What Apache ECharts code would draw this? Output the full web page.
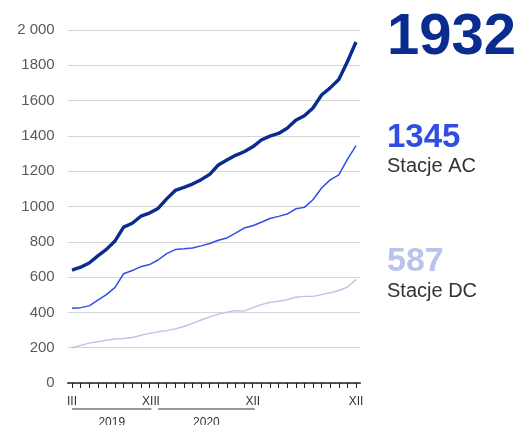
<!DOCTYPE html>
<html>
<head>
<meta charset="utf-8">
<script src="https://cdn.jsdelivr.net/npm/echarts@6/dist/echarts.min.js"></script>
<style>
  html, body { margin: 0; padding: 0; background: #ffffff; }
  #chart { width: 520px; height: 425px; }
</style>
</head>
<body>
<div id="chart"></div>
<script>
// Months from March 2019 to December 2021
const months = ['III','IV','V','VI','VII','VIII','IX','X','XI','XII',
  'I','II','III','IV','V','VI','VII','VIII','IX','X','XI','XII',
  'I','II','III','IV','V','VI','VII','VIII','IX','X','XI','XII'];
// Month indices that carry a visible label
const labelledMonths = [0, 9, 10, 21, 33];
// Year brackets under the axis
const years = ['2019', '2020'];
const yearFirst = [0, 10];
const yearLast = [9, 21];

// Public charging stations: total, AC and DC
const totalStations = [640,656,680,720,757,805,883,905,945,963,989,1043,1091,1108,1127,1152,1182,1235,1263,1290,1310,1338,1377,1399,1414,1443,1488,1514,1558,1632,1672,1719,1820,1932];
const acStations = [423,427,437,469,501,542,619,637,659,671,697,733,756,760,765,777,790,809,822,849,878,891,911,932,944,957,987,995,1038,1105,1151,1179,1267,1345];
const dcStations = [200,213,226,234,243,249,252,258,270,281,290,297,307,320,338,357,375,390,401,410,407,427,444,457,463,472,486,491,491,501,511,524,543,587];

const COLOR_TOTAL = '#0b2c8f';
const COLOR_AC = '#2d4fe2';
const COLOR_DC = '#b9c3eb';
const TEXT = '#333333';
const SANS = '"Liberation Sans", Arial, sans-serif';
const NARROW = '"Liberation Sans Narrow", "Liberation Sans", Arial, sans-serif';

const last = arr => arr[arr.length - 1];

const chart = echarts.init(document.getElementById('chart'), null, { renderer: 'canvas' });

const option = {
  animation: false,
  backgroundColor: '#ffffff',
  grid: { left: 67.7, right: 159.7, top: 30, bottom: 42, containLabel: false },
  xAxis: {
    type: 'category',
    data: months,
    boundaryGap: true,
    axisLine: { show: true, lineStyle: { color: '#222222', width: 1.5 } },
    axisTick: { show: true, alignWithLabel: true, interval: 0, length: 5, lineStyle: { color: '#222222', width: 1 } },
    axisLabel: {
      interval: 0,
      margin: 13,
      fontSize: 12,
      fontFamily: NARROW,
      color: TEXT,
      formatter: (value, index) => labelledMonths.includes(index) ? value : ''
    },
    splitLine: { show: false }
  },
  yAxis: {
    type: 'value',
    min: 0,
    max: 2000,
    interval: 200,
    axisLine: { show: false },
    axisTick: { show: false },
    axisLabel: {
      margin: 13,
      fontSize: 15,
      fontFamily: SANS,
      color: '#5a5a5a',
      formatter: v => v >= 2000 ? String(v).replace(/(\d)(\d{3})$/, '$1 $2') : String(v)
    },
    splitLine: { show: true, lineStyle: { color: '#d6d6d6', width: 1.2 } }
  },
  series: [
    {
      name: 'Stacje DC', type: 'line', data: dcStations, symbol: 'none', z: 2,
      lineStyle: { color: COLOR_DC, width: 1.4 }
    },
    {
      name: 'Stacje AC', type: 'line', data: acStations, symbol: 'none', z: 3,
      lineStyle: { color: COLOR_AC, width: 1.5 }
    },
    {
      name: 'Razem', type: 'line', data: totalStations, symbol: 'none', z: 4,
      lineStyle: { color: COLOR_TOTAL, width: 3.4 }
    }
  ],
  graphic: [
    { id: 'totalValue', type: 'text', left: 387, top: 9,
      style: { text: String(last(totalStations)), font: 'bold 58px ' + SANS, fill: COLOR_TOTAL } },
    { id: 'acValue', type: 'text', left: 387, top: 121,
      style: { text: String(last(acStations)), font: 'bold 33px ' + SANS, fill: COLOR_AC } },
    { id: 'acName', type: 'text', left: 387, top: 156,
      style: { text: 'Stacje AC', font: '20px ' + SANS, fill: TEXT } },
    { id: 'dcValue', type: 'text', left: 387, top: 245,
      style: { text: String(last(dcStations)), font: 'bold 34px ' + SANS, fill: COLOR_DC } },
    { id: 'dcName', type: 'text', left: 387, top: 281,
      style: { text: 'Stacje DC', font: '20px ' + SANS, fill: TEXT } }
  ]
};

chart.setOption(option);

// Year brackets placed from the category scale
const axisY = chart.convertToPixel({ yAxisIndex: 0 }, 0);
const px = i => chart.convertToPixel({ xAxisIndex: 0 }, i);
const brackets = [];
years.forEach((year, k) => {
  const x0 = px(yearFirst[k]);
  const x1 = px(yearLast[k]) + 2;
  brackets.push({
    id: 'yearLine' + k, type: 'line',
    shape: { x1: x0, y1: axisY + 26, x2: x1, y2: axisY + 26 },
    style: { stroke: '#333333', lineWidth: 1 }
  });
  brackets.push({
    id: 'yearText' + k, type: 'text',
    x: (x0 + x1) / 2, y: axisY + 40,
    style: { text: year, font: '12px ' + SANS, fill: TEXT, align: 'center', verticalAlign: 'middle' }
  });
});
chart.setOption({ graphic: brackets });
</script>
</body>
</html>
